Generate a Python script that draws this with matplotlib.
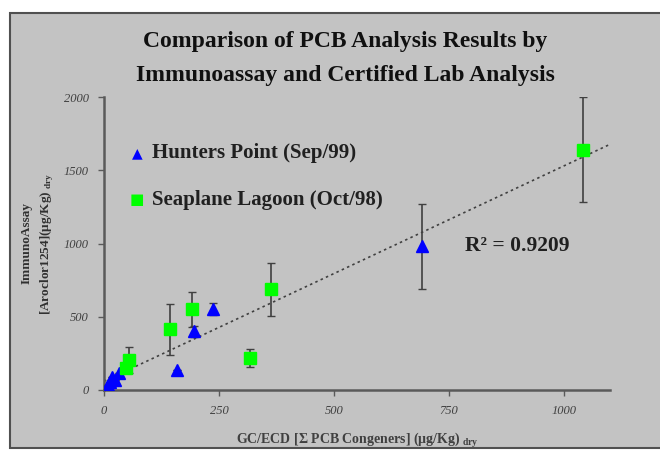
import matplotlib
matplotlib.use("Agg")
import matplotlib.pyplot as plt
from matplotlib.patches import Rectangle
import numpy as np

# Hunters Point (Sep/99)
hp_x   = [5, 8, 12, 17, 25, 33, 159, 196, 237, 691]
hp_y   = [10, 35, 55, 90, 70, 115, 135, 400, 555, 980]
hp_err = [0, 0, 0, 0, 0, 0, 0, 40, 40, 290]

# Seaplane Lagoon (Oct/98)
sl_x   = [48, 55, 143, 192, 318, 362, 1042]
sl_y   = [148, 205, 415, 551, 221, 688, 1640]
sl_err = [0, 90, 175, 120, 62, 180, 360]

# trendline
trend_x = [0, 1100]
trend_slope = 1.47
trend_icpt = 60
r2_text = "R\u00b2 = 0.9209"

xticks = [0, 250, 500, 750, 1000]
yticks = [0, 500, 1000, 1500, 2000]

serif = ["Liberation Serif", "DejaVu Serif"]
plt.rcParams["mathtext.fontset"] = "custom"
plt.rcParams["mathtext.rm"] = "Liberation Serif"
plt.rcParams["mathtext.bf"] = "Liberation Serif:bold"
panel = "#c3c3c3"
axcol = "#5a5a5a"

fig = plt.figure(figsize=(6.6, 4.55), dpi=100)
fig.patch.set_facecolor("white")

bg = fig.add_axes([0, 0, 1, 1], zorder=-1)
bg.set_axis_off()
bg.set_xlim(0, 660)
bg.set_ylim(455, 0)
bg.add_patch(Rectangle((10, 13), 700, 435, facecolor=panel, edgecolor="#505050", linewidth=1.5))

ax = fig.add_axes([104/660, 1 - 390/455, 506/660, 293/455], zorder=1)
ax.set_facecolor("none")

tx = np.array(trend_x, dtype=float)
ax.plot(tx, trend_icpt + trend_slope * tx, linestyle=(0, (1.5, 2)), color="#404040", lw=1.2, zorder=2)

ax.errorbar(hp_x, hp_y, yerr=hp_err, fmt="^", color="#0000ff", ms=8, mec="#0000ff",
            ecolor="#404040", elinewidth=1.2, capsize=3, zorder=3)
ax.errorbar(sl_x, sl_y, yerr=sl_err, fmt="s", color="#00ff00", ms=8, mec="#00ff00",
            ecolor="#404040", elinewidth=1.2, capsize=3, zorder=3)

ax.set_xlim(0, 1100)
ax.set_ylim(0, 2000)
ax.set_xticks(xticks)
ax.set_yticks(yticks)
for lab in ax.get_xticklabels() + ax.get_yticklabels():
    lab.set_family(serif)
    lab.set_style("italic")
    lab.set_fontsize(9)
    lab.set_color("#404040")
ax.tick_params(direction="out", length=4, width=1, color=axcol, pad=7)
for s in ["top", "right"]:
    ax.spines[s].set_visible(False)
for s in ["left", "bottom"]:
    ax.spines[s].set_color(axcol)
    ax.spines[s].set_linewidth(1.8)

ax.set_xlabel("GC/ECD [\u03a3 PCB Congeners] (\u00b5g/Kg)$_{\\mathbf{\\ dry}}$", family=serif,
              fontsize=10, fontweight="bold", color="#404040", labelpad=10)
ax.set_ylabel("ImmunoAssay\n[Aroclor1254](\u00b5g/Kg)$_{\\mathbf{\\ dry}}$", family=serif,
              fontsize=9.5, fontweight="bold", color="#303030", labelpad=6, linespacing=1.5)

# legend, drawn by hand like the original
fig.text(137/660, 1 - 153/455, "\u25B2", color="#0000ff", fontsize=10, ha="center", va="center")
fig.text(152/660, 1 - 153/455, "Hunters Point (Sep/99)", family=serif, fontsize=15,
         fontweight="bold", color="#202020", va="center")
fig.text(137/660, 1 - 200/455, "\u25A0", color="#00ff00", fontsize=11, ha="center", va="center")
fig.text(152/660, 1 - 200/455, "Seaplane Lagoon (Oct/98)", family=serif, fontsize=15,
         fontweight="bold", color="#202020", va="center")

fig.text(465/660, 1 - 246/455, r2_text, family=serif, fontsize=15.5, fontweight="bold", color="#202020", va="center")

fig.text(345/660, 1 - 42/455, "Comparison of PCB Analysis Results by", family=serif,
         fontsize=17, fontweight="bold", ha="center", va="center", color="#101010")
fig.text(345/660, 1 - 76/455, "Immunoassay and Certified Lab Analysis", family=serif,
         fontsize=17, fontweight="bold", ha="center", va="center", color="#101010")

fig.savefig("out.png", dpi=100)
